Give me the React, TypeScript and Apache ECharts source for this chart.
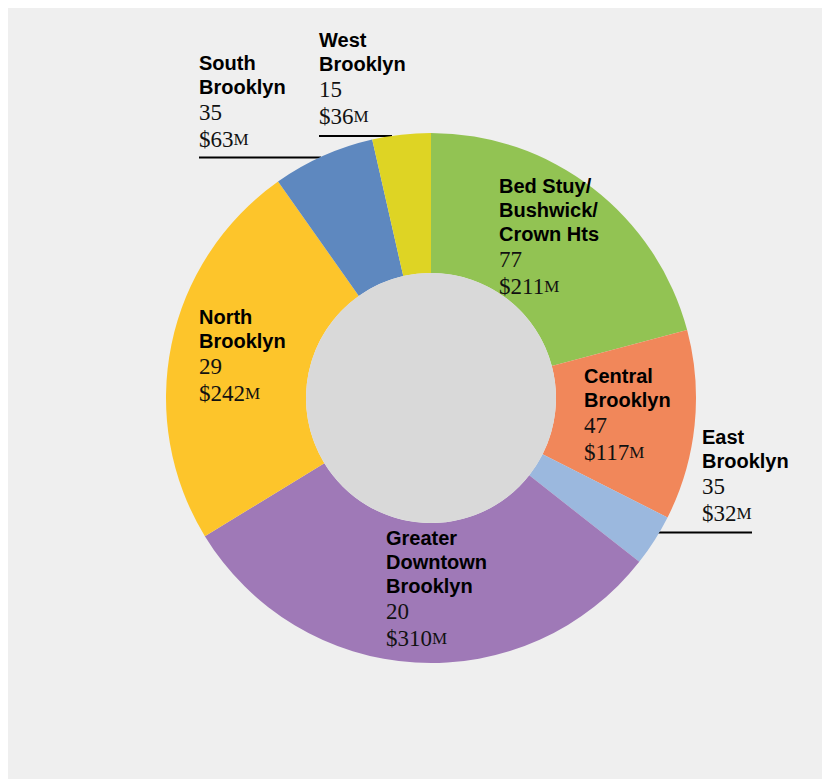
import React, { useEffect, useRef } from "react";
import * as echarts from "echarts";

const regions = [
  ["Bed Stuy/", "Bushwick/", "Crown Hts"],
  ["Central", "Brooklyn"],
  ["East", "Brooklyn"],
  ["Greater", "Downtown", "Brooklyn"],
  ["North", "Brooklyn"],
  ["South", "Brooklyn"],
  ["West", "Brooklyn"],
];
const counts = [77, 47, 35, 20, 29, 35, 15];
const amountsM = [211, 117, 32, 310, 242, 63, 36];
const colors = ["#92c353", "#f1875a", "#9bb8de", "#9f79b7", "#fdc52b", "#5e88bf", "#ded424"];

// label block top-left positions (chart coords)
const labelPos = [
  [491, 166],
  [576, 356],
  [694, 417],
  [378, 518],
  [191, 297],
  [191, 43],
  [311, 20],
];

const W = 822;
const H = 771;
const CX = 423;
const CY = 390;

export default function App() {
  const ref = useRef<HTMLDivElement>(null);
  useEffect(() => {
    document.documentElement.style.overflow = "hidden";
    document.body.style.overflow = "hidden";
    const chart = echarts.init(ref.current!, undefined, { renderer: "svg" });
    const data = regions.map((r, i) => ({
      name: r.join(" "),
      value: amountsM[i],
      itemStyle: { color: colors[i] },
    }));
    chart.setOption({
      animation: false,
      backgroundColor: "#efefef",
      series: [
        {
          type: "pie",
          center: [CX, CY],
          radius: [125, 265],
          startAngle: 90,
          clockwise: true,
          silent: true,
          avoidLabelOverlap: false,
          itemStyle: { borderWidth: 0 },
          emphasis: { disabled: true },
          labelLine: { show: false },
          label: {
            show: true,
            position: "inside",
            formatter: (p: any) => {
              const i = p.dataIndex;
              const names = regions[i].map((s) => `{n|${s}}`).join("\n");
              return `${names}\n{v|${counts[i]}}\n{v|$${amountsM[i]}}{m|M}`;
            },
            rich: {
              n: {
                fontFamily: "Liberation Sans",
                fontWeight: "bold",
                fontSize: 20,
                lineHeight: 24,
                color: "#000",
              },
              v: {
                fontFamily: "Liberation Serif",
                fontSize: 23,
                lineHeight: 27,
                color: "#111",
              },
              m: {
                fontFamily: "Liberation Serif",
                fontSize: 17,
                lineHeight: 27,
                color: "#111",
              },
            },
          },
          labelLayout: (params: any) => {
            const pos = labelPos[params.dataIndex];
            return { x: pos[0], y: pos[1], align: "left", verticalAlign: "top" };
          },
          data,
        },
        {
          type: "pie",
          center: [CX, CY],
          radius: [0, 125],
          silent: true,
          label: { show: false },
          labelLine: { show: false },
          emphasis: { disabled: true },
          data: [{ value: 1, itemStyle: { color: "#d9d9d9" } }],
        },
      ],
      graphic: [
        { type: "line", shape: { x1: 191, y1: 149.5, x2: 313, y2: 149.5 }, style: { stroke: "#000", lineWidth: 2 } },
        { type: "line", shape: { x1: 311, y1: 128, x2: 384, y2: 128 }, style: { stroke: "#000", lineWidth: 2 } },
        { type: "line", shape: { x1: 635, y1: 524.5, x2: 744, y2: 524.5 }, style: { stroke: "#000", lineWidth: 2 } },
      ],
    });
    return () => chart.dispose();
  }, []);
  return <div ref={ref} style={{ width: W, height: H }} />;
}
